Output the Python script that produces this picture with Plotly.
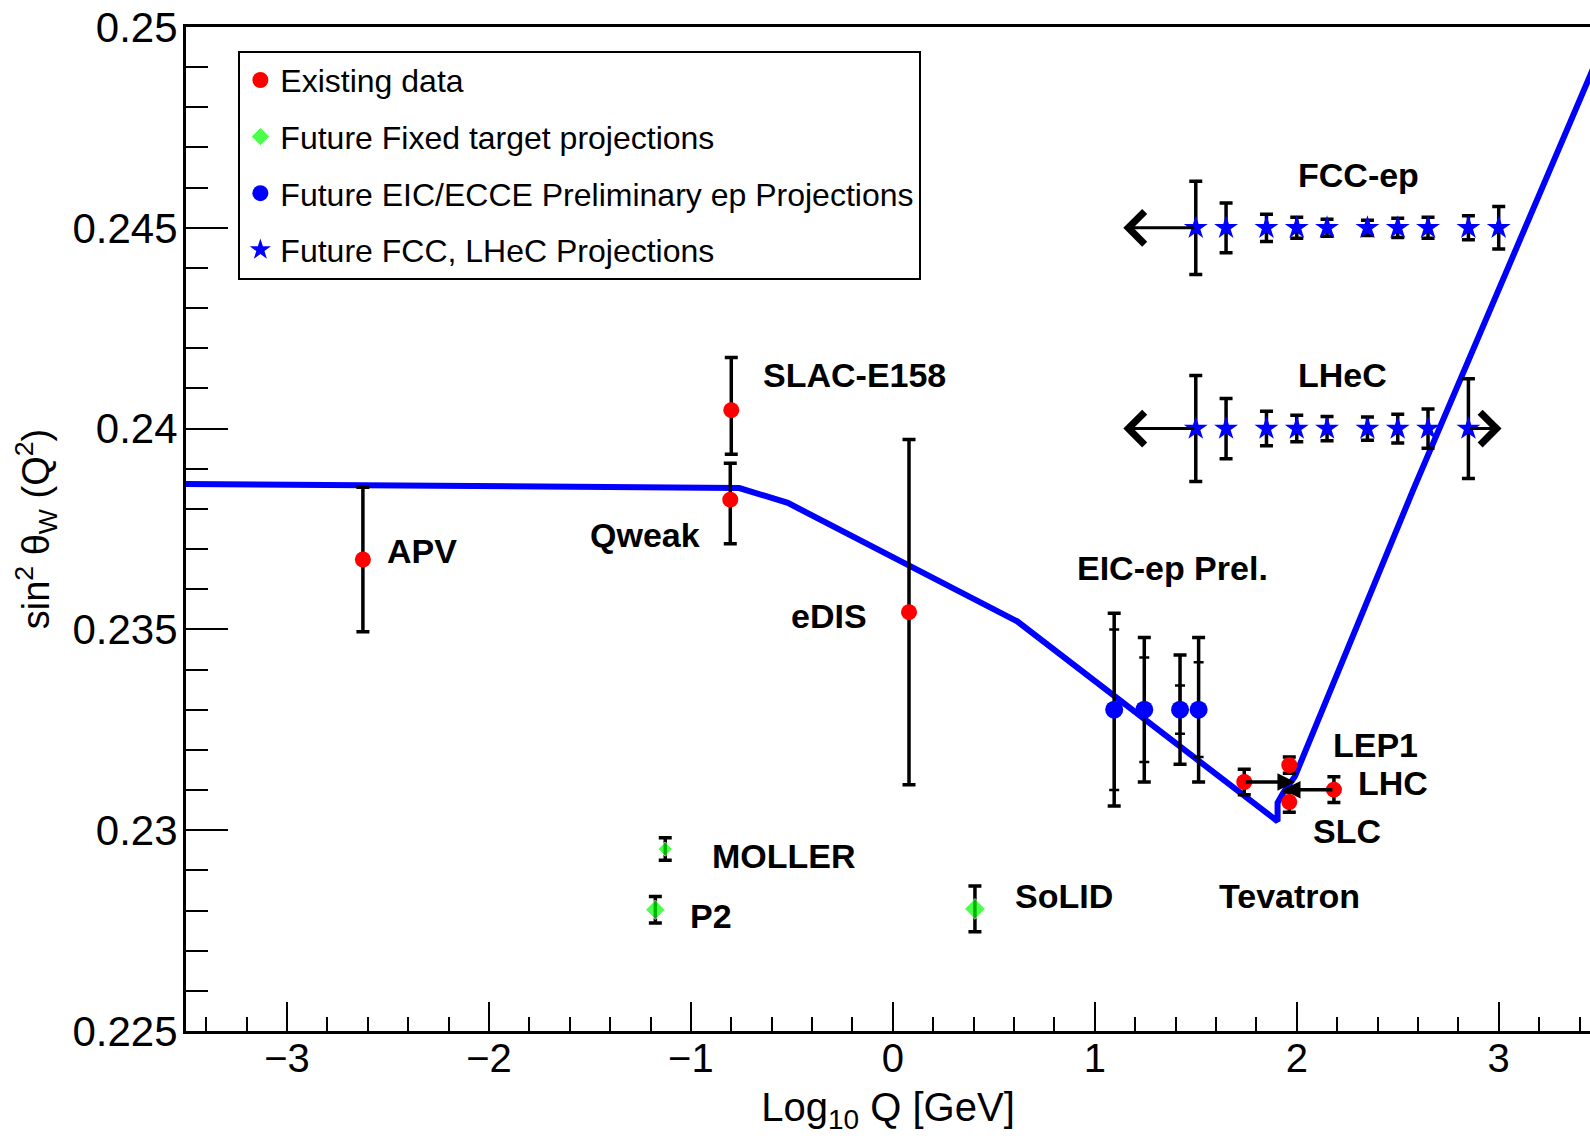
import plotly.graph_objects as go

# ---------------- data ----------------
# Running curve (Log10 Q [GeV], sin^2 theta_W)
curve_x = [-3.5, -0.76, -0.52, 0.616, 1.905, 1.905, 1.933, 1.991, 2.577, 3.5]
curve_y = [0.23862, 0.23852, 0.23815, 0.2352, 0.23022, 0.23068, 0.23093, 0.23134, 0.23848, 0.24935]

# Existing data
exist_names = ["APV", "SLAC-E158", "Qweak", "eDIS", "Tevatron", "LEP1", "SLC", "LHC"]
exist_x = [-2.624, -0.800, -0.805, 0.080, 1.740, 1.963, 1.963, 2.184]
exist_y = [0.23674, 0.24046, 0.23823, 0.23543, 0.23120, 0.23162, 0.23070, 0.23101]
exist_err_plus = [0.0018, 0.00131, 0.00091, 0.0043, 0.00032, 0.0002, 0.00025, 0.00032]
exist_err_minus = [0.0018, 0.0011, 0.0011, 0.0043, 0.00032, 0.0002, 0.00025, 0.00032]

# Future fixed target projections
fixed_names = ["MOLLER", "P2", "SoLID"]
fixed_x = [-1.127, -1.176, 0.4065]
fixed_y = [0.22953, 0.22802, 0.22804]
fixed_err = [0.00028, 0.00033, 0.00057]

# Future EIC/ECCE preliminary ep projections
eic_x = [1.096, 1.245, 1.422, 1.514]
eic_y = [0.233, 0.233, 0.233, 0.233]
eic_err_total = [0.0024, 0.0018, 0.00136, 0.0018]
eic_err_stat = [0.0020, 0.0013, 0.0006, 0.00118]

# Future FCC-ep and LHeC projections
fcc_x = [1.5, 1.65, 1.85, 2.0, 2.15, 2.35, 2.5, 2.65, 2.85, 3.0]
fcc_y = [0.245] * 10
fcc_err = [0.00116, 0.00062, 0.00034, 0.00026, 0.00021, 0.00019, 0.00024, 0.00026, 0.0003, 0.00053]
lhec_x = [1.5, 1.65, 1.85, 2.0, 2.15, 2.35, 2.5, 2.65, 2.85]
lhec_y = [0.240] * 9
lhec_err = [0.00132, 0.00075, 0.00043, 0.00033, 0.0003, 0.00029, 0.00036, 0.00049, 0.00124]

# Q-range arrows (tail = measurement, head = reach)
fcc_arrow_low = 1.141
lhec_arrow_low = 1.141
lhec_arrow_high = 3.014
tevatron_arrow_to = 1.991
lhc_arrow_to = 1.932

# Tick labels
ytick_vals = [0.225, 0.23, 0.235, 0.24, 0.245, 0.25]
ytick_text = ["0.225", "0.23", "0.235", "0.24", "0.245", "0.25"]
xtick_vals = [-3, -2, -1, 0, 1, 2, 3]

# Text labels (text, x, y) in data coordinates
labels = [
    ("APV", -2.330, 0.23695),
    ("SLAC-E158", -0.189, 0.24134),
    ("Qweak", -1.2255, 0.23735),
    ("eDIS", -0.314, 0.23533),
    ("EIC-ep Prel.", 1.383, 0.23654),
    ("FCC-ep", 2.307, 0.24631),
    ("LHeC", 2.224, 0.24134),
    ("LEP1", 2.390, 0.23212),
    ("LHC", 2.477, 0.23117),
    ("SLC", 2.251, 0.22998),
    ("Tevatron", 1.963, 0.22836),
    ("MOLLER", -0.540, 0.22935),
    ("P2", -0.899, 0.22786),
    ("SoLID", 0.846, 0.22836),
]

# ---------------- style ----------------
FONT = "Liberation Sans, Arial, Helvetica, sans-serif"
RED = "#ff0000"
GREEN = "#00ff00"
BLUE = "#0000ff"
EB = dict(color="black", thickness=3.5, width=6.5)

fig = go.Figure()

fig.add_trace(go.Scatter(x=curve_x, y=curve_y, mode="lines",
                         line=dict(color=BLUE, width=6), showlegend=False,
                         hoverinfo="skip"))

fig.add_trace(go.Scatter(
    x=exist_x, y=exist_y, mode="markers", name="Existing data",
    legendgroup="a",
    marker=dict(color=RED, size=16, symbol="circle"),
    error_y=dict(type="data", symmetric=False, array=exist_err_plus,
                 arrayminus=exist_err_minus, **EB),
    text=exist_names))

fig.add_trace(go.Scatter(
    x=fixed_x, y=fixed_y, mode="markers", name="Future Fixed target projections",
    legendgroup="b",
    marker=dict(color=GREEN, size=[11, 15, 16], symbol="diamond"),
    error_y=dict(type="data", array=fixed_err, **EB),
    text=fixed_names))

fig.add_trace(go.Scatter(
    x=eic_x, y=eic_y, mode="markers", showlegend=False, legendgroup="c",
    marker=dict(color="rgba(0,0,0,0)", size=1),
    error_y=dict(type="data", array=eic_err_stat, color="black", thickness=2.5, width=5),
    hoverinfo="skip"))

fig.add_trace(go.Scatter(
    x=eic_x, y=eic_y, mode="markers", name="Future EIC/ECCE Preliminary ep Projections",
    legendgroup="c",
    marker=dict(color=BLUE, size=18, symbol="circle"),
    error_y=dict(type="data", array=eic_err_total, **EB)))

fig.add_trace(go.Scatter(
    x=fcc_x, y=fcc_y, mode="markers", name="Future FCC, LHeC Projections",
    legendgroup="d",
    marker=dict(color=BLUE, size=18, symbol="star"),
    error_y=dict(type="data", array=fcc_err, **EB)))

fig.add_trace(go.Scatter(
    x=lhec_x, y=lhec_y, mode="markers", showlegend=False, legendgroup="d",
    marker=dict(color=BLUE, size=18, symbol="star"),
    error_y=dict(type="data", array=lhec_err, **EB)))

annotations = []
for txt, lx, ly in labels:
    annotations.append(dict(x=lx, y=ly, xref="x", yref="y", text="<b>%s</b>" % txt,
                            showarrow=False, xanchor="center", yanchor="middle",
                            font=dict(family=FONT, size=34, color="black")))

def arrow(x_from, y_from, x_to, head, width, size):
    return dict(x=x_to, y=y_from, ax=x_from, ay=y_from, xref="x", yref="y",
                axref="x", ayref="y", text="", showarrow=True, arrowhead=head,
                arrowwidth=width, arrowsize=size, arrowcolor="black",
                standoff=0, startstandoff=0)

annotations.append(arrow(fcc_x[0], fcc_y[0], fcc_arrow_low, 4, 3, 2.1))
annotations.append(arrow(lhec_x[0], lhec_y[0], lhec_arrow_low, 4, 3, 2.1))
annotations.append(arrow(lhec_x[-1], lhec_y[-1], lhec_arrow_high, 4, 3, 2.1))
annotations.append(arrow(exist_x[4], exist_y[4], tevatron_arrow_to, 2, 3.5, 1.0))
annotations.append(arrow(exist_x[7], exist_y[7], lhc_arrow_to, 2, 3.5, 1.0))

fig.update_layout(
    width=1590, height=1139,
    margin=dict(l=186, r=0, t=27, b=108),
    paper_bgcolor="white", plot_bgcolor="white",
    font=dict(family=FONT, color="black"),
    showlegend=True,
    legend=dict(x=0.0373, y=0.9764, xanchor="left", yanchor="top",
                bordercolor="black", borderwidth=2, bgcolor="white",
                font=dict(family=FONT, size=32, color="black"),
                traceorder="grouped", tracegroupgap=12),
    annotations=annotations,
    xaxis=dict(range=[-3.5, 3.452], showgrid=False, zeroline=False,
               showline=True, linecolor="black", linewidth=3, mirror=True,
               ticks="inside", ticklen=29, tickwidth=2, tickcolor="black",
               tickvals=xtick_vals, tickfont=dict(family=FONT, size=40),
               ticklabelstandoff=-10,
               minor=dict(dtick=0.2, tick0=0, ticks="inside", ticklen=14,
                          tickwidth=2, tickcolor="black"),
               title=dict(text="Log<sub>10</sub> Q [GeV]",
                          font=dict(family=FONT, size=40), standoff=14)),
    yaxis=dict(range=[0.225, 0.25], showgrid=False, zeroline=False,
               showline=True, linecolor="black", linewidth=3,
               ticks="inside", ticklen=42, tickwidth=2, tickcolor="black",
               tickvals=ytick_vals, ticktext=ytick_text,
               tickfont=dict(family=FONT, size=42), ticklabelstandoff=-3,
               minor=dict(dtick=0.001, tick0=0.225, ticks="inside", ticklen=22,
                          tickwidth=2, tickcolor="black"),
               title=dict(text="sin<sup>2</sup> θ<sub>W</sub> (Q<sup>2</sup>)",
                          font=dict(family=FONT, size=38), standoff=12)),
)

fig.write_html("out.html")
